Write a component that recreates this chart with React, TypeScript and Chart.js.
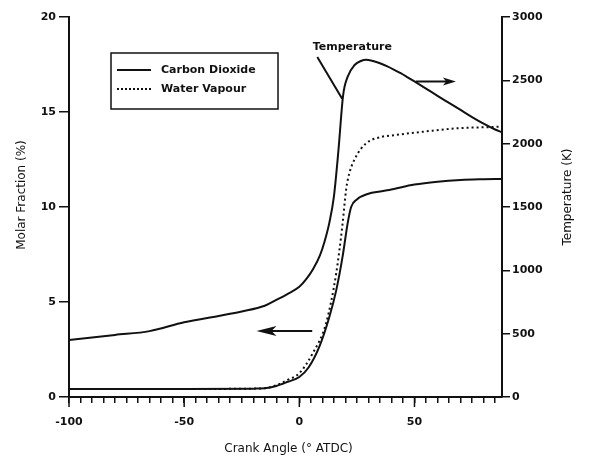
import { useEffect, useRef } from "react";
import { Chart, registerables } from "chart.js";

Chart.register(...registerables);

// Temperature history (K) against crank angle
const tempAngle = [-100, -80, -65, -50, -35, -25, -15, -10, -5, 0, 3, 6, 9, 11, 13, 15, 17, 19, 21, 24, 27, 29, 32, 35, 38, 41, 44, 47, 50, 55, 60, 65, 70, 75, 80, 85, 88];
const temperatureK = [450, 490, 520, 590, 640, 675, 720, 766, 815, 870, 930, 1010, 1120, 1230, 1373, 1580, 1950, 2380, 2529, 2621, 2655, 2662, 2652, 2635, 2612, 2585, 2556, 2524, 2491, 2435, 2378, 2322, 2266, 2210, 2158, 2112, 2090];

// Carbon dioxide molar fraction (%)
const co2Angle = [-100, -50, -20, -15, -10, -5, 0, 4, 8.7, 13, 16, 18.8, 21, 22.5, 25, 30, 35, 39, 50, 60, 70, 80, 88];
const co2Fraction = [0.42, 0.42, 0.44, 0.46, 0.58, 0.8, 1.05, 1.55, 2.65, 4.2, 5.6, 7.4, 9.15, 10.0, 10.4, 10.7, 10.82, 10.9, 11.18, 11.33, 11.42, 11.46, 11.48];

// Water vapour molar fraction (%)
const h2oAngle = [-100, -50, -20, -15, -10, -5, 0, 5.8, 11.6, 16, 18.8, 20.3, 21.7, 24.6, 29, 36, 39, 53.6, 68, 85.5, 88];
const h2oFraction = [0.42, 0.42, 0.44, 0.46, 0.62, 0.9, 1.25, 2.3, 3.88, 6.5, 9.14, 10.9, 11.77, 12.65, 13.35, 13.7, 13.75, 13.96, 14.14, 14.22, 14.24];

const angleMin = -100;
const angleMax = 88;
const majorAngles = [-100, -50, 0, 50];
const fractionMax = 20;
const temperatureMax = 3000;

const INK = "#111";
const FONT = '"DejaVu Sans", sans-serif';

const toPoints = (xs: number[], ys: number[]) => xs.map((x, i) => ({ x, y: ys[i] }));

function line(ctx: CanvasRenderingContext2D, x1: number, y1: number, x2: number, y2: number) {
  ctx.beginPath();
  ctx.moveTo(x1, y1);
  ctx.lineTo(x2, y2);
  ctx.stroke();
}

function arrow(ctx: CanvasRenderingContext2D, tailX: number, headX: number, yy: number, headLen: number, headHalf: number) {
  const dir = Math.sign(headX - tailX);
  ctx.lineWidth = 2;
  line(ctx, tailX, yy, headX - dir * headLen * 0.6, yy);
  ctx.beginPath();
  ctx.moveTo(headX, yy);
  ctx.lineTo(headX - dir * headLen, yy - headHalf);
  ctx.lineTo(headX - dir * headLen * 0.75, yy);
  ctx.lineTo(headX - dir * headLen, yy + headHalf);
  ctx.closePath();
  ctx.fill();
}

const decorations = {
  id: "decorations",
  afterDraw(chart: any) {
    const { ctx, chartArea: a, scales } = chart;
    const sx = scales.x;
    const sy = scales.y;
    ctx.save();
    ctx.strokeStyle = INK;
    ctx.fillStyle = INK;

    // longer ticks at the labelled crank angles
    ctx.lineWidth = 1.5;
    for (const v of majorAngles) {
      const px = sx.getPixelForValue(v);
      line(ctx, px, a.bottom, px, a.bottom + 10);
    }

    // axis titles
    ctx.font = `12px ${FONT}`;
    ctx.textAlign = "center";
    ctx.textBaseline = "middle";
    const midY = (a.top + a.bottom) / 2;
    ctx.fillText("Crank Angle (° ATDC)", (a.left + a.right) / 2 + 3, a.bottom + 52);
    ctx.save();
    ctx.translate(a.left - 47, midY - 12);
    ctx.rotate(-Math.PI / 2);
    ctx.fillText("Molar Fraction (%)", 0, 0);
    ctx.restore();
    ctx.save();
    ctx.translate(a.right + 66, midY - 10);
    ctx.rotate(-Math.PI / 2);
    ctx.fillText("Temperature (K)", 0, 0);
    ctx.restore();

    // legend box
    const lx = a.left + 42;
    const ly = a.top + 36;
    ctx.lineWidth = 1.5;
    ctx.strokeRect(lx, ly, 167, 56);
    ctx.lineWidth = 2;
    line(ctx, lx + 6, ly + 17, lx + 40, ly + 17);
    ctx.setLineDash([2, 2]);
    line(ctx, lx + 6, ly + 36, lx + 40, ly + 36);
    ctx.setLineDash([]);
    ctx.font = `bold 11px ${FONT}`;
    ctx.textAlign = "left";
    ctx.fillText("Carbon Dioxide", lx + 50, ly + 17);
    ctx.fillText("Water Vapour", lx + 50, ly + 36);

    // temperature label with leader line
    ctx.textAlign = "center";
    ctx.fillText("Temperature", sx.getPixelForValue(23), sy.getPixelForValue(18.4));
    ctx.lineWidth = 2;
    line(ctx, sx.getPixelForValue(7.8), sy.getPixelForValue(17.9), sx.getPixelForValue(18.6), sy.getPixelForValue(15.7));

    // arrows pointing to each curve's axis
    arrow(ctx, sx.getPixelForValue(50.6), sx.getPixelForValue(68), sy.getPixelForValue(16.6), 13, 4);
    arrow(ctx, sx.getPixelForValue(5.6), sx.getPixelForValue(-18.6), sy.getPixelForValue(3.47), 20, 5);

    ctx.restore();
  },
};

export default function App() {
  const canvasRef = useRef<HTMLCanvasElement | null>(null);

  useEffect(() => {
    document.body.style.margin = "0";
    const canvas = canvasRef.current;
    if (!canvas) return;

    const tickFont = { family: FONT, size: 11, weight: "bold" as const };

    const chart = new Chart(canvas, {
      type: "line",
      data: {
        datasets: [
          {
            label: "Temperature",
            data: toPoints(tempAngle, temperatureK),
            yAxisID: "y2",
            borderColor: INK,
            borderWidth: 2,
            pointRadius: 0,
            cubicInterpolationMode: "monotone",
          },
          {
            label: "Carbon Dioxide",
            data: toPoints(co2Angle, co2Fraction),
            yAxisID: "y",
            borderColor: INK,
            borderWidth: 2,
            pointRadius: 0,
            cubicInterpolationMode: "monotone",
          },
          {
            label: "Water Vapour",
            data: toPoints(h2oAngle, h2oFraction),
            yAxisID: "y",
            borderColor: INK,
            borderWidth: 2,
            borderDash: [2, 3],
            pointRadius: 0,
            cubicInterpolationMode: "monotone",
          },
        ],
      },
      options: {
        responsive: false,
        animation: false,
        layout: { padding: { top: 17, left: 0, right: 0, bottom: 0 } },
        plugins: { legend: { display: false }, tooltip: { enabled: false } },
        scales: {
          x: {
            type: "linear",
            position: "bottom",
            min: angleMin,
            max: angleMax,
            afterFit: (s: any) => { s.height = 62; },
            border: { display: true, color: INK, width: 2 },
            grid: { drawOnChartArea: false, drawTicks: true, tickLength: 6, color: INK, lineWidth: 1.5 },
            ticks: {
              stepSize: 5,
              includeBounds: false,
              autoSkip: false,
              maxRotation: 0,
              padding: 13,
              color: INK,
              font: tickFont,
              callback: (v: any) => (majorAngles.includes(Number(v)) ? String(v) : ""),
            },
          },
          y: {
            type: "linear",
            position: "left",
            min: 0,
            max: fractionMax,
            afterFit: (s: any) => { s.width = 69; },
            border: { display: true, color: INK, width: 2 },
            grid: { drawOnChartArea: false, drawTicks: true, tickLength: 10, color: INK, lineWidth: 1.5 },
            ticks: { stepSize: 5, padding: 3, color: INK, font: tickFont, callback: (v: any) => String(v) },
          },
          y2: {
            type: "linear",
            position: "right",
            min: 0,
            max: temperatureMax,
            afterFit: (s: any) => { s.width = 87; },
            border: { display: true, color: INK, width: 2 },
            grid: { drawOnChartArea: false, drawTicks: true, tickLength: 8, color: INK, lineWidth: 1.5 },
            ticks: { stepSize: 500, padding: 2, color: INK, font: tickFont, callback: (v: any) => String(v) },
          },
        },
      },
      plugins: [decorations],
    });

    return () => chart.destroy();
  }, []);

  return (
    <div style={{ width: 589, height: 459, background: "#fff" }}>
      <canvas ref={canvasRef} width={589} height={459} />
    </div>
  );
}
